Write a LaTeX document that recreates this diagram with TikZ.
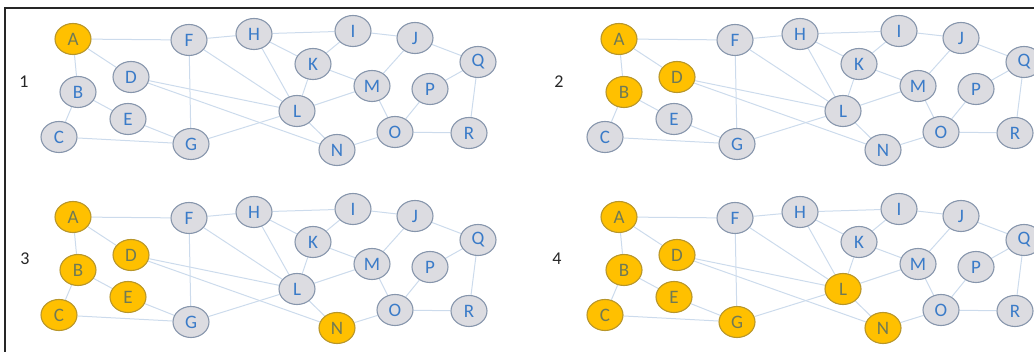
\documentclass[tikz,border=0pt]{standalone}
\usepackage{fontspec}
\setmainfont{Carlito}
\usetikzlibrary{shapes.geometric,backgrounds}
\definecolor{gfill}{HTML}{DCDCE1}
\definecolor{gline}{HTML}{8796AC}
\definecolor{ofill}{HTML}{FFC000}
\definecolor{oline}{HTML}{B8962A}
\definecolor{gtext}{HTML}{3A7BC8}
\definecolor{otext}{HTML}{707A55}
\definecolor{edgec}{HTML}{CCDBEC}
\tikzset{
  gn/.style={ellipse, draw=gline, fill=gfill, line width=1.1pt, minimum width=36pt, minimum height=31pt, inner sep=0pt, text=gtext, font=\fontsize{19}{19}\selectfont},
  hl/.style={fill=ofill, draw=oline, text=otext},
  edge/.style={draw=edgec, line width=1pt},
  num/.style={text=black!85, font=\fontsize{18}{18}\selectfont},
  frame/.style={draw=black!85, line width=2pt},
  vA/.style={}, vB/.style={}, vC/.style={}, vD/.style={}, vE/.style={}, vF/.style={},
  vG/.style={}, vH/.style={}, vI/.style={}, vJ/.style={}, vK/.style={}, vL/.style={},
  vM/.style={}, vN/.style={}, vO/.style={}, vP/.style={}, vQ/.style={}, vR/.style={}
}
\newcommand\mygraph[1]{%
  \node[gn,vA] (#1A) at (73,39) {A};
  \node[gn,vB] (#1B) at (78,92) {B};
  \node[gn,vC] (#1C) at (59,137) {C};
  \node[gn,vD] (#1D) at (131,77) {D};
  \node[gn,vE] (#1E) at (128,119) {E};
  \node[gn,vF] (#1F) at (189,40) {F};
  \node[gn,vG] (#1G) at (191,144) {G};
  \node[gn,vH] (#1H) at (254,34) {H};
  \node[gn,vI] (#1I) at (353,31) {I};
  \node[gn,vJ] (#1J) at (415,38) {J};
  \node[gn,vK] (#1K) at (313,64) {K};
  \node[gn,vL] (#1L) at (297,111) {L};
  \node[gn,vM] (#1M) at (372,86) {M};
  \node[gn,vN] (#1N) at (337,150) {N};
  \node[gn,vO] (#1O) at (395,132) {O};
  \node[gn,vP] (#1P) at (430,89) {P};
  \node[gn,vQ] (#1Q) at (478,62) {Q};
  \node[gn,vR] (#1R) at (469,133) {R};
  \begin{scope}[on background layer]
    \foreach \a/\b in {A/F,F/H,A/B,A/D,B/C,B/E,E/G,C/G,F/G,F/L,H/L,D/L,D/N,G/L,H/I,H/K,K/I,K/L,K/M,L/M,L/N,I/J,J/M,J/Q,P/Q,O/P,M/O,O/R,Q/R,N/O}
      \draw[edge] (#1\a) -- (#1\b);
  \end{scope}
}
\begin{document}
\begin{tikzpicture}[x=1pt,y=-1pt]
  \useasboundingbox (0,0) rectangle (1034,352);
  \coordinate (fl) at (5,352);
  \coordinate (fc) at (5,8);
  \coordinate (fr) at (1034,8);
  \draw[frame] (fl) -- (fc) -- (fr);
  \node[num] (n1) at (24,82) {1};
  \node[num] (n2) at (559,82) {2};
  \node[num] (n3) at (25,259) {3};
  \node[num] (n4) at (557,259) {4};
  \begin{scope}[vA/.style=hl]
    \mygraph{p1}
  \end{scope}
  \begin{scope}[shift={(546,0)}, vA/.style=hl, vB/.style=hl, vD/.style=hl]
    \mygraph{p2}
  \end{scope}
  \begin{scope}[shift={(0,178)}, vA/.style=hl, vB/.style=hl, vC/.style=hl, vD/.style=hl, vE/.style=hl, vN/.style=hl]
    \mygraph{p3}
  \end{scope}
  \begin{scope}[shift={(546,178)}, vA/.style=hl, vB/.style=hl, vC/.style=hl, vD/.style=hl, vE/.style=hl, vG/.style=hl, vL/.style=hl, vN/.style=hl]
    \mygraph{p4}
  \end{scope}
\end{tikzpicture}
\end{document}
